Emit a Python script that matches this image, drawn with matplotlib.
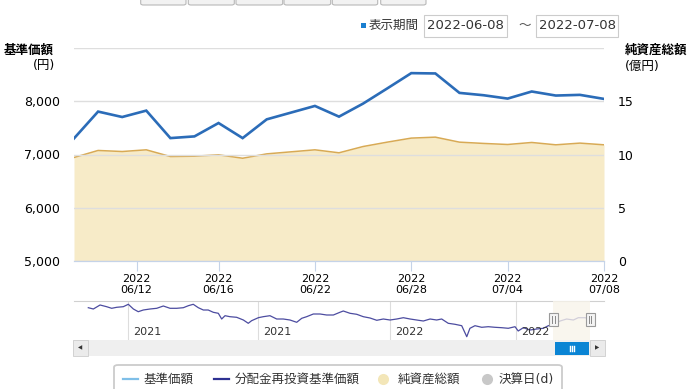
import matplotlib
matplotlib.use("Agg")
import matplotlib.pyplot as plt
from matplotlib.patches import Rectangle, FancyBboxPatch, Circle
from matplotlib.lines import Line2D

plt.rcParams['font.family'] = ['DejaVu Sans', 'Noto Sans CJK JP']

# --- data -----------------------------------------------------------------
dates = ['06/08', '06/09', '06/10', '06/13', '06/14', '06/15', '06/16', '06/17',
         '06/20', '06/21', '06/22', '06/23', '06/24', '06/27', '06/28', '06/29',
         '06/30', '07/01', '07/04', '07/05', '07/06', '07/07', '07/08']
nav_price = [7302, 7806, 7704, 7824, 7308, 7340, 7591, 7308, 7660, 7786, 7912,
             7711, 7956, 8240, 8528, 8522, 8157, 8113, 8050, 8183, 8107, 8120, 8044]
net_assets = [9.72, 10.38, 10.28, 10.44, 9.81, 9.84, 9.97, 9.65, 10.06, 10.25, 10.44,
              10.16, 10.75, 11.16, 11.54, 11.63, 11.16, 11.04, 10.94, 11.13, 10.91, 11.07, 10.91]

tick_pos = [2.6, 6, 10, 14, 18, 22]
tick_labels = ['2022\n06/12', '2022\n06/16', '2022\n06/22', '2022\n06/28', '2022\n07/04', '2022\n07/08']

# navigator: long history of reinvested NAV (trading day, value)
hist_day = [8.5, 11.5, 15.5, 19.4, 22.4, 25.4, 29.3, 32.3, 35.3, 38.2, 41.2, 45.2, 49.2,
            53.1, 57.1, 61.1, 65, 68, 70.9, 73.9, 76.9, 79.8, 82.8, 85.8, 87.8, 89.8,
            92.7, 96.7, 100.7, 103.6, 105.6, 109.6, 112.5, 116.5, 120.5, 124.4, 128.4,
            132.4, 135.4, 138.3, 142.3, 146.3, 150.2, 154.2, 158.1, 160.1, 164.1, 168.1,
            172, 176, 180, 183.9, 187.9, 191.9, 195.8, 199.8, 203.7, 207.7, 211.7, 215.6,
            218.6, 222.5, 226.5, 230.5, 233.5, 235.4, 238.4, 242.4, 246.3, 250.3, 254.3,
            258.2, 262.2, 264.1, 267.1, 271.1, 275.1, 279, 282, 285, 289, 292.9, 296.9,
            299.8, 303.8, 306.8]
hist_val = [9463, 9300, 9800, 9588, 9388, 9513, 9588, 9888, 9300, 8963, 9175, 9300, 9388,
            9675, 9388, 9388, 9463, 9713, 9888, 9463, 9175, 9175, 8888, 8763, 8050, 8463,
            8338, 8263, 7925, 7513, 7838, 8213, 8338, 8463, 8050, 8050, 7925, 7638, 8138,
            8338, 8675, 8675, 8550, 8550, 8888, 9050, 8763, 8638, 8338, 8175, 7888, 8050,
            7925, 8050, 8213, 8050, 7925, 7800, 8050, 7925, 8050, 7513, 7388, 7213, 5838,
            6888, 7213, 7013, 7088, 7013, 6963, 6888, 7088, 6550, 6963, 6675, 6800, 6888,
            7213, 7300, 7800, 8050, 7925, 8213, 8213, 8050]
year_day = [32.3, 109.6, 187.9, 262.6]
year_labels = ['2021', '2021', '2022', '2022']
sel_start, sel_end = 285, 306.8

W, H = 693, 389


def fx(px):
    return px / W


def fy(py):
    return 1 - py / H


fig = plt.figure(figsize=(W / 100, H / 100), dpi=100)

# --- main chart -----------------------------------------------------------
ax = fig.add_axes([fx(74), fy(261), fx(530), 213 / H])
ax2 = ax.twinx()
x = list(range(len(dates)))

ax2.fill_between(x, net_assets, 0, color='#f7ebc8', lw=0)
ax2.plot(x, net_assets, color='#d8aa55', lw=1.1)
ax2.set_ylim(0, 20)
ax2.set_yticks([0, 5, 10, 15])
ax2.tick_params(axis='y', length=0, labelsize=9, pad=10)

ax.set_zorder(ax2.get_zorder() + 1)
ax.patch.set_visible(False)
ax.plot(x, nav_price, color='#2b6cb8', lw=1.9, solid_joinstyle='miter')
ax.set_ylim(5000, 9000)
ax.set_xlim(0, len(dates) - 1)
ax.set_yticks([5000, 6000, 7000, 8000, 9000])
ax.set_yticklabels(['5,000', '6,000', '7,000', '8,000', ''])
ax.grid(axis='y', color='#dedede', lw=1)
ax.tick_params(axis='y', length=0, labelsize=9, pad=10)
ax.set_xticks(tick_pos)
ax.set_xticklabels(tick_labels, fontsize=8, linespacing=1.25)
ax.tick_params(axis='x', length=7, color='#c5d3e8', pad=2)
for a in (ax, ax2):
    for s in ('left', 'right', 'top'):
        a.spines[s].set_visible(False)
    a.spines['bottom'].set_color('#c5d3e8')

fig.text(fx(4), fy(50), '基準価額', fontsize=9, weight='bold', va='center')
fig.text(fx(55), fy(66), '(円)', fontsize=9, va='center', ha='right')
fig.text(fx(625), fy(50), '純資産総額', fontsize=9, weight='bold', va='center')
fig.text(fx(625), fy(66), '(億円)', fontsize=9, va='center')

# --- top controls ---------------------------------------------------------
for bx0, bx1 in [(140.7, 186), (188.3, 234.3), (236, 282.7), (284, 330.7), (332.3, 377.7), (380.7, 426)]:
    fig.patches.append(FancyBboxPatch((fx(bx0), fy(5)), fx(bx1 - bx0), 10 / H,
                                      boxstyle='round,pad=0,rounding_size=0.004',
                                      transform=fig.transFigure, fc='#f2f2f2', ec='#b8b8b8', lw=0.8))
fig.patches.append(Rectangle((fx(360.7), fy(28.3)), fx(5.3), 5.3 / H, transform=fig.transFigure,
                             fc='#1a7fd0', ec='none'))
fig.text(fx(369), fy(25.7), '表示期間', fontsize=9, va='center', color='#333333')
for bx0, bx1, txt in [(424.3, 506.7, '2022-06-08'), (536, 618.3, '2022-07-08')]:
    fig.patches.append(Rectangle((fx(bx0), fy(36.7)), fx(bx1 - bx0), 21.7 / H, transform=fig.transFigure,
                                 fc='white', ec='#cccccc', lw=0.8))
    fig.text(fx((bx0 + bx1) / 2), fy(25.7), txt, fontsize=9.5, va='center', ha='center', color='#333333')
fig.text(fx(525), fy(25.7), '～', fontsize=9, va='center', ha='center', color='#555555')

# --- navigator ------------------------------------------------------------
nav = fig.add_axes([fx(74), fy(340), fx(530), 39 / H])
nav.plot(hist_day, hist_val, color='#4c4ca0', lw=0.9)
nav.set_xlim(0, 315.1)
nav.set_ylim(5425, 10300)
nav.axvspan(sel_start, sel_end, color='#f8f4ea', alpha=0.78, lw=0, zorder=3)
for d, lab in zip(year_day, year_labels):
    nav.axvline(d, color='#dddddd', lw=0.8, zorder=0)
    nav.text(d + 3, 5425 + (10300 - 5425) * 0.2, lab, fontsize=8, va='center', color='#333333')
nav.set_xticks([])
nav.set_yticks([])
for s in ('left', 'right', 'bottom'):
    nav.spines[s].set_visible(False)
nav.spines['top'].set_color('#d0d0d0')

# selection handles
for d in (sel_start, sel_end):
    hx = 74 + d * 530 / 315.1
    fig.patches.append(Rectangle((fx(hx - 4.5), fy(325.5)), fx(9), 13 / H, transform=fig.transFigure,
                                 fc='#f4f4f4', ec='#9a9a9a', lw=0.8, zorder=5))
    for dx in (-1.2, 1.2):
        fig.lines.append(Line2D([fx(hx + dx), fx(hx + dx)], [fy(315.5), fy(322.5)],
                                transform=fig.transFigure, color='#888888', lw=0.7, zorder=6))

# scrollbar
fig.patches.append(Rectangle((fx(73), fy(356)), fx(531), 16 / H, transform=fig.transFigure,
                             fc='#efefef', ec='none'))
for bx0 in (73, 590):
    fig.patches.append(Rectangle((fx(bx0), fy(356)), fx(14.5), 16 / H, transform=fig.transFigure,
                                 fc='#ebebeb', ec='#d2d2d2', lw=0.7))
fig.text(fx(80.3), fy(348), '◀', fontsize=4, ha='center', va='center', color='#333333')
fig.text(fx(597.3), fy(348), '▶', fontsize=4, ha='center', va='center', color='#333333')
fig.patches.append(Rectangle((fx(555), fy(355)), fx(34), 13.3 / H, transform=fig.transFigure,
                             fc='#0a84d4', ec='none'))
for dx in (-2.3, 0, 2.3):
    fig.lines.append(Line2D([fx(572 + dx), fx(572 + dx)], [fy(345.5), fy(351)],
                            transform=fig.transFigure, color='white', lw=1))

# --- legend ---------------------------------------------------------------
fig.patches.append(FancyBboxPatch((fx(114), fy(400)), fx(448), 35 / H,
                                  boxstyle='round,pad=0,rounding_size=0.006',
                                  transform=fig.transFigure, fc='white', ec='#cccccc', lw=1.3))
ly = fy(379)
fig.lines.append(Line2D([fx(122.7), fx(138.3)], [ly, ly], transform=fig.transFigure, color='#7fbfe8', lw=1.6))
fig.text(fx(143.3), ly, '基準価額', fontsize=9, va='center', color='#333333')
fig.lines.append(Line2D([fx(214), fx(229.3)], [ly, ly], transform=fig.transFigure, color='#2e3192', lw=1.6))
fig.text(fx(235), ly, '分配金再投資基準価額', fontsize=9, va='center', color='#333333')
fig.lines.append(Line2D([fx(383.3)], [ly], transform=fig.transFigure, marker='o', ms=8,
                        color='#f3e6b8', mec='none', ls='none'))
fig.text(fx(397.7), ly, '純資産総額', fontsize=9, va='center', color='#333333')
fig.lines.append(Line2D([fx(486.7)], [ly], transform=fig.transFigure, marker='o', ms=8,
                        color='#c8c8c8', mec='none', ls='none'))
fig.text(fx(499), ly, '決算日(d)', fontsize=9, va='center', color='#333333')

fig.savefig('out.png', dpi=100)
